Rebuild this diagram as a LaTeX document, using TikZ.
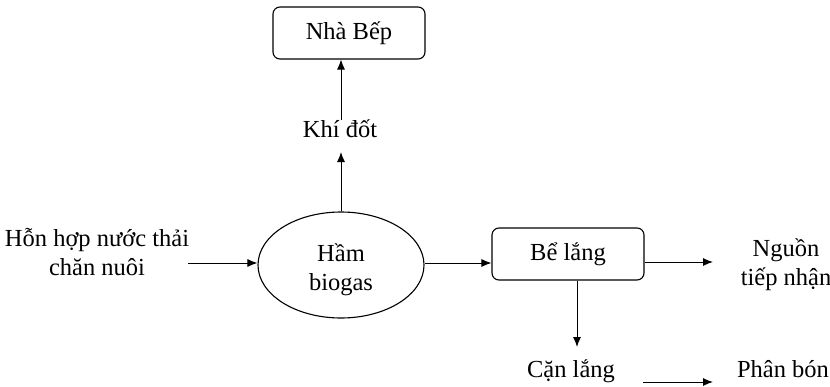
\documentclass[tikz,border=0pt]{standalone}
\usepackage{fontspec}
\setmainfont{Liberation Serif}
\usetikzlibrary{arrows.meta,shapes.geometric}
\begin{document}
\begin{tikzpicture}[x=1pt,y=-1pt,
  txt/.style={font=\fontsize{24.5}{29}\selectfont, align=center, inner sep=0pt},
  rbox/.style={draw, rounded corners=7pt, line width=1.1pt, minimum width=152pt, minimum height=52pt, font=\fontsize{24.5}{29}\selectfont},
  arr/.style={-{Latex[length=10pt,width=8pt]}, line width=1pt}]
\useasboundingbox (0,0) rectangle (830,386);
\node[rbox] (bep) at (349,33) {Nhà Bếp};
\node[txt] (khi) at (340,129) {Khí đốt};
\node[draw, ellipse, line width=1.1pt, minimum width=166pt, minimum height=106pt] (ham) at (341,265) {};
\node[txt] (hamtxt) at (341,270) {Hầm\\biogas};
\node[txt] (hon) at (97,252) {Hỗn hợp nước thải\\chăn nuôi};
\node[rbox] (be) at (568,254) {Bể lắng};
\node[txt] (nguon) at (786,265) {Nguồn\\tiếp nhận};
\node[txt] (can) at (571,371) {Cặn lắng};
\node[txt] (phan) at (783,369) {Phân bón};
\coordinate (a1) at (188,263);
\coordinate (a2) at (713,262);
\coordinate (a3) at (643,382);
\coordinate (a4) at (713,382);
\draw[arr] (khi.north -| 341,0) -- (bep.south -| 341,0);
\draw[arr] (ham.north) -- (341,152);
\draw[arr] (a1) -- (ham.west |- a1);
\draw[arr] (ham.east |- 0,263) -- (be.west |- 0,263);
\draw[arr] (be.east |- a2) -- (a2);
\draw[arr] (be.south -| 577,0) -- (577,347);
\draw[arr] (a3) -- (a4);
\end{tikzpicture}
\end{document}
